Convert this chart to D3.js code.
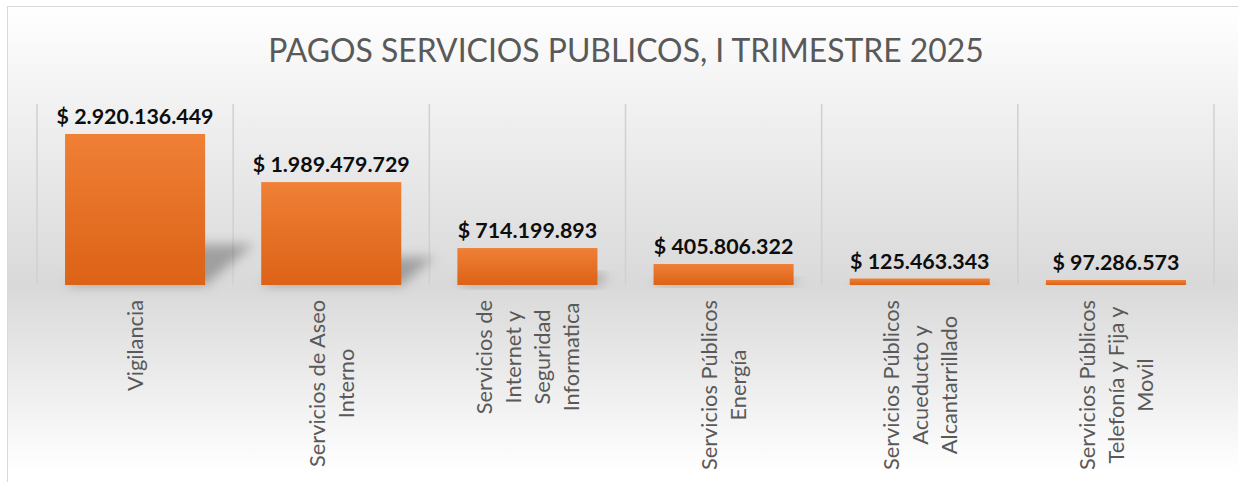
<!DOCTYPE html>
<html>
<head>
<meta charset="utf-8">
<script src="https://cdn.jsdelivr.net/npm/d3@7"></script>
<style>
	body { margin: 0; background: #fff; }
	svg { display: block; }
</style>
</head>
<body>
<svg id="chart" width="1238" height="482"></svg>
<script>
// datos del grafico (lineas partidas como en Excel)
var categorias = [
	"Vigilancia",
	"Servicios de Aseo\nInterno",
	"Servicios de\nInternet y\nSeguridad\nInformatica",
	"Servicios Públicos\nEnergía",
	"Servicios Públicos\nAcueducto y\nAlcantarrillado",
	"Servicios Públicos\nTelefonía y Fija y\nMovil"
];
var pagos = [2920136449, 1989479729, 714199893, 405806322, 125463343, 97286573];
var yMax = 3500000000;
var titulo = "PAGOS SERVICIOS PUBLICOS, I TRIMESTRE 2025";

var svg = d3.select('#chart');
var plotLeft = 37, plotRight = 1214, plotTop = 104, base = 285;
var fontFam = "Lato, 'Open Sans', sans-serif";

var locale = d3.formatLocale({ decimal: ",", thousands: ".", grouping: [3], currency: ["$ ", ""] });
var fmt = locale.format("$,.0f");

var defs = svg.append('defs');

// fondo degradado del area del grafico
var bg = defs.append('linearGradient').attr('id', 'bgGrad')
	.attr('x1', 0).attr('y1', 0).attr('x2', 0).attr('y2', 1);
bg.append('stop').attr('offset', '0%').attr('stop-color', '#ffffff');
bg.append('stop').attr('offset', '19%').attr('stop-color', '#f2f2f2');
bg.append('stop').attr('offset', '57%').attr('stop-color', '#d9d9d9');
bg.append('stop').attr('offset', '95%').attr('stop-color', '#ffffff');

var barGrad = defs.append('linearGradient').attr('id', 'barGrad')
	.attr('x1', 0).attr('y1', 0).attr('x2', 0).attr('y2', 1);
barGrad.append('stop').attr('offset', '0%').attr('stop-color', '#ef8036');
barGrad.append('stop').attr('offset', '100%').attr('stop-color', '#dc6216');

var blur = defs.append('filter').attr('id', 'blur')
	.attr('x', '-50%').attr('y', '-50%').attr('width', '200%').attr('height', '200%');
blur.append('feGaussianBlur').attr('stdDeviation', 6);

svg.append('rect')
	.attr('x', 7.5).attr('y', 6.5)
	.attr('width', 1240).attr('height', 490)
	.attr('fill', 'url(#bgGrad)')
	.attr('stroke', '#d9d9d9');

// mide un texto para ajustar el tamaño de fuente a un ancho dado
function fitSize(txt, weight, target) {
	var t = svg.append('text')
		.style('font-family', fontFam)
		.style('font-weight', weight)
		.style('font-size', '20px')
		.text(txt);
	var w = t.node().getComputedTextLength();
	t.remove();
	return 20 * target / w;
}

var x = d3.scaleBand()
	.domain(d3.range(pagos.length))
	.range([plotLeft, plotRight])
	.paddingInner(0.286)
	.paddingOuter(0.143);
var y = d3.scaleLinear().domain([0, yMax]).range([base, plotTop]);
var step = x.step();

// lineas verticales entre categorias
svg.append('g').selectAll('line')
	.data(d3.range(pagos.length + 1))
	.enter().append('line')
	.attr('x1', function (i) { return plotLeft + i * step; })
	.attr('x2', function (i) { return plotLeft + i * step; })
	.attr('y1', plotTop).attr('y2', base)
	.attr('stroke', '#d0d0d0')
	.attr('stroke-width', 1.5);

// sombra en perspectiva detras de cada barra
svg.append('g').selectAll('polygon')
	.data(pagos)
	.enter().append('polygon')
	.attr('points', function (d, i) {
		var x0 = x(i), x1 = x(i) + x.bandwidth();
		var h = base - y(d);
		var sh = 0.27 * h, dx = 1.2 * sh;
		return [[x0 + dx, base - sh], [x1 + dx, base - sh], [x1, base], [x0, base]].join(' ');
	})
	.attr('fill', '#000')
	.attr('fill-opacity', 0.28)
	.attr('filter', 'url(#blur)');

svg.append('g').selectAll('rect')
	.data(pagos)
	.enter().append('rect')
	.attr('x', function (d, i) { return x(i); })
	.attr('y', function (d) { return y(d); })
	.attr('width', x.bandwidth())
	.attr('height', function (d) { return base - y(d); })
	.attr('fill', 'url(#barGrad)');

// etiquetas de valor
var lblSize = fitSize(fmt(pagos[0]), 700, 157);
svg.append('g').selectAll('text')
	.data(pagos)
	.enter().append('text')
	.attr('x', function (d, i) { return x(i) + x.bandwidth() / 2; })
	.attr('y', function (d) { return y(d) - 10; })
	.attr('text-anchor', 'middle')
	.style('font-family', fontFam)
	.style('font-weight', 700)
	.style('font-size', lblSize + 'px')
	.attr('fill', '#0d0d0d')
	.text(function (d) { return fmt(d); });

// etiquetas de categoria giradas
var catSize = fitSize("Servicios de Aseo", 400, 167);
var pitch = 29;
categorias.forEach(function (c, i) {
	var lines = c.split('\n');
	var cx = x(i) + x.bandwidth() / 2;
	var g = svg.append('g')
		.attr('transform', 'translate(' + cx + ',300) rotate(-90)');
	var texts = g.selectAll('text')
		.data(lines)
		.enter().append('text')
		.attr('text-anchor', 'middle')
		.attr('y', function (l, k) { return (k - (lines.length - 1) / 2) * pitch + 8; })
		.style('font-family', fontFam)
		.style('font-size', catSize + 'px')
		.attr('fill', '#595959')
		.text(function (l) { return l; });
	var maxW = d3.max(texts.nodes(), function (n) { return n.getComputedTextLength(); });
	texts.attr('x', -maxW / 2);
});

// titulo
var tSize = fitSize(titulo, 400, 716);
svg.append('text')
	.attr('x', 626)
	.attr('y', 62)
	.attr('text-anchor', 'middle')
	.style('font-family', fontFam)
	.style('font-weight', 400)
	.style('font-size', tSize + 'px')
	.attr('fill', '#595959')
	.text(titulo);
</script>
</body>
</html>
